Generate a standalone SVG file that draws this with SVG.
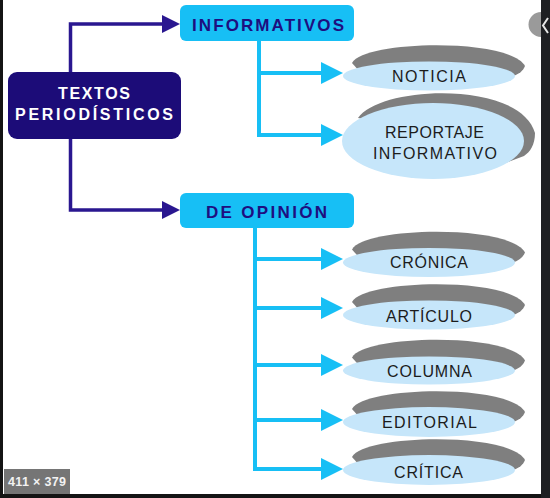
<svg xmlns="http://www.w3.org/2000/svg" xmlns:xlink="http://www.w3.org/1999/xlink" width="550" height="498" viewBox="0 0 550 498">
<style>
.navy{fill:none;stroke:#2a1790;stroke-width:3.5;stroke-linejoin:miter}
.cyan{fill:none;stroke:#17bff5;stroke-width:4;stroke-linejoin:miter}
.shadow{fill:#7f7f7f}
.leaf{fill:#c6e6fa}
.lt{font-family:"Liberation Sans",Arial,sans-serif;font-size:16px;fill:#1c1c1c;text-anchor:middle}
.ht{font-family:"Liberation Sans",Arial,sans-serif;font-size:17px;font-weight:bold;fill:#1e0e80;text-anchor:middle}
.box{fill:#17bff5}
</style>
<defs>
<marker id="an" markerUnits="userSpaceOnUse" markerWidth="18" markerHeight="18" refX="0" refY="9" orient="auto" viewBox="0 0 18 18"><path d="M0,0 L18,9 L0,18 z" fill="#2a1790"/></marker>
<marker id="ac" markerUnits="userSpaceOnUse" markerWidth="22" markerHeight="22" refX="0" refY="11" orient="auto" viewBox="0 0 22 22"><path d="M0,0 L22,11 L0,22 z" fill="#17bff5"/></marker>
<path id="sh" class="shadow" d="M-77,-13 C-64,-36 81,-38 96,-10 C94,-5 90,-2 84,0 L-69,-4 Z"/>
<path id="shbig" class="shadow" d="M-75,-23 C-53,-56 87,-61 102,-8 C102,4 97,11 91,15 L67,24 L-63,-21 Z"/>
</defs>
<rect width="550" height="498" fill="#ffffff"/>
<g id="connectors">
<path class="navy" d="M70.5,72 V24 H162" marker-end="url(#an)"/>
<path class="navy" d="M70.5,139 V210 H162" marker-end="url(#an)"/>
<path class="cyan" d="M259,40 V135 H321" marker-end="url(#ac)"/>
<path class="cyan" d="M259,73 H321" marker-end="url(#ac)"/>
<path class="cyan" d="M255,228 V469 H321" marker-end="url(#ac)"/>
<path class="cyan" d="M255,259 H321" marker-end="url(#ac)"/>
<path class="cyan" d="M255,308 H321" marker-end="url(#ac)"/>
<path class="cyan" d="M255,365 H321" marker-end="url(#ac)"/>
<path class="cyan" d="M255,420 H321" marker-end="url(#ac)"/>
</g>
<g id="textos-periodisticos">
<rect x="8" y="72" width="173" height="67" rx="9" fill="#1c0c78"/>
<text x="94" y="99" font-family="'Liberation Sans',Arial,sans-serif" font-size="16" font-weight="bold" fill="#ffffff" text-anchor="middle" textLength="72" lengthAdjust="spacing">TEXTOS</text>
<text x="94" y="120" font-family="'Liberation Sans',Arial,sans-serif" font-size="16" font-weight="bold" fill="#ffffff" text-anchor="middle" textLength="158" lengthAdjust="spacing">PERIODÍSTICOS</text>
</g>
<g id="informativos">
<rect class="box" x="180" y="5" width="174" height="36" rx="6"/>
<text class="ht" x="268" y="31" textLength="152" lengthAdjust="spacing">INFORMATIVOS</text>
</g>
<g id="de-opinion">
<rect class="box" x="180" y="193" width="174" height="35" rx="6"/>
<text class="ht" x="266.5" y="218" textLength="121" lengthAdjust="spacing">DE OPINIÓN</text>
</g>
<g id="noticia">
<use xlink:href="#sh" href="#sh" x="429" y="76"/>
<ellipse class="leaf" cx="429" cy="76" rx="86" ry="14.5"/>
<text class="lt" x="429" y="82" textLength="74" lengthAdjust="spacing">NOTICIA</text>
</g>
<g id="reportaje-informativo">
<use xlink:href="#shbig" href="#shbig" x="433" y="141"/>
<ellipse class="leaf" cx="433" cy="141" rx="91" ry="38"/>
<text class="lt" x="434.5" y="138" textLength="99" lengthAdjust="spacing">REPORTAJE</text>
<text class="lt" x="435" y="159" textLength="124" lengthAdjust="spacing">INFORMATIVO</text>
</g>
<g id="cronica">
<use xlink:href="#sh" href="#sh" x="429" y="262.5"/>
<ellipse class="leaf" cx="429" cy="262.5" rx="86" ry="14.5"/>
<text class="lt" x="429" y="268" textLength="78" lengthAdjust="spacing">CRÓNICA</text>
</g>
<g id="articulo">
<use xlink:href="#sh" href="#sh" x="429" y="315"/>
<ellipse class="leaf" cx="429" cy="315" rx="86" ry="14.5"/>
<text class="lt" x="429" y="322" textLength="86" lengthAdjust="spacing">ARTÍCULO</text>
</g>
<g id="columna">
<use xlink:href="#sh" href="#sh" x="429" y="370.5"/>
<ellipse class="leaf" cx="429" cy="370.5" rx="86" ry="14"/>
<text class="lt" x="429.5" y="377" textLength="85" lengthAdjust="spacing">COLUMNA</text>
</g>
<g id="editorial">
<use xlink:href="#sh" href="#sh" x="429" y="422"/>
<ellipse class="leaf" cx="429" cy="422" rx="86" ry="15"/>
<text class="lt" x="429.5" y="428" textLength="95" lengthAdjust="spacing">EDITORIAL</text>
</g>
<g id="critica">
<use xlink:href="#sh" href="#sh" x="429" y="470"/>
<ellipse class="leaf" cx="429" cy="470" rx="86" ry="15"/>
<text class="lt" x="428.5" y="478" textLength="69" lengthAdjust="spacing">CRÍTICA</text>
</g>
<g id="frame">
<rect x="0" y="0" width="3" height="498" fill="#141414"/>
<rect x="0" y="494" width="550" height="4" fill="#141414"/>
<circle cx="541" cy="24.5" r="12.5" fill="#9a9a9a"/>
<rect x="541" y="0" width="9" height="498" fill="#1e1f22"/>
<polyline points="548,18 543,25.5 548,33" fill="none" stroke="#e6e6e6" stroke-width="2"/>
<rect x="4" y="469" width="66" height="25" fill="#757575"/>
<text x="37" y="485.5" font-family="'Liberation Sans',Arial,sans-serif" font-size="12.5" font-weight="bold" fill="#f2f2f2" text-anchor="middle" textLength="58" lengthAdjust="spacing">411 × 379</text>
</g>
</svg>
